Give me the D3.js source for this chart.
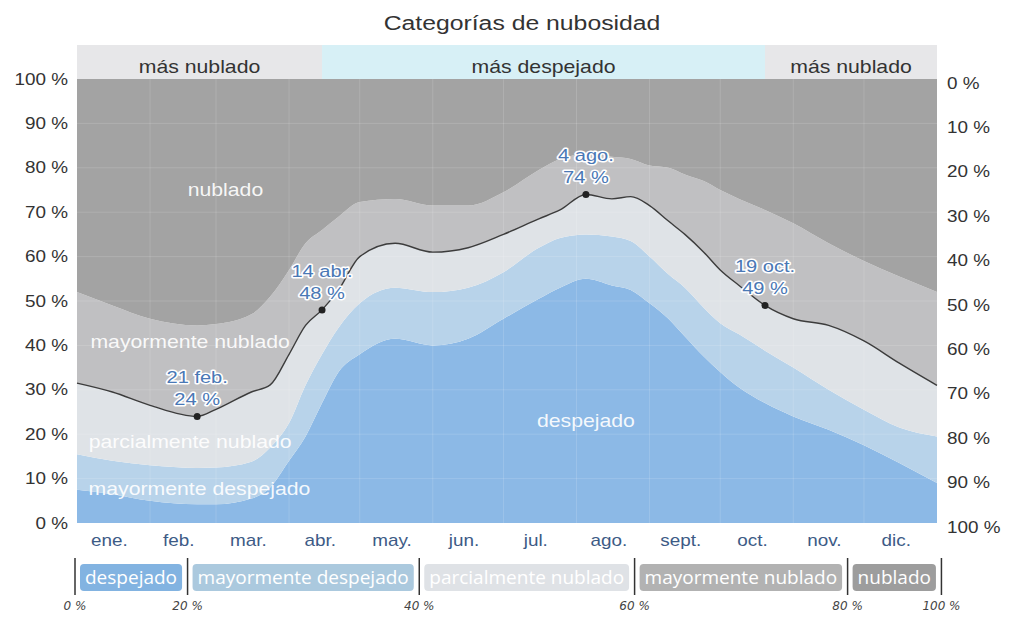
<!DOCTYPE html>
<html>
<head>
<meta charset="utf-8">
<script src="https://cdn.jsdelivr.net/npm/d3@7"></script>
<style>
body { margin: 0; background: #fff; }
text { font-family: "Liberation Sans", Arial, sans-serif; }
</style>
</head>
<body>
<script>

// Size of the page
var width = 1021;
var height = 618;

// Day of year for every reading
var days = [0, 15, 31, 51, 59, 74, 82, 90, 97, 104, 111, 120, 135, 151, 166, 181, 196, 205, 216, 227, 235, 243, 251, 258, 266, 273, 281, 292, 304, 319, 334, 349, 365];

// Percent of time in each cloud category (they add up to 100)
var despejado           = [7.5, 6.5, 5, 4.2, 4.2, 5.5, 8, 14, 19.5, 27, 34, 38, 41.5, 40, 41.5, 46, 50.5, 53, 55, 53.5, 52.5, 49.5, 46, 42, 37.5, 34, 30.5, 27, 24, 21, 17.5, 13.5, 9];
var mayormenteDespejado = [8, 7.5, 8, 8.2, 8.3, 8.3, 9, 8.5, 11.5, 11, 10, 11.5, 11.5, 12, 11.5, 10.5, 11.5, 11.2, 10, 11, 11, 10.5, 10, 11, 11, 11, 12, 11.8, 11, 9, 8, 8, 10.5];
var parcialmenteNublado = [16, 15.5, 13.5, 11.6, 13.1, 15.7, 14.1, 15.5, 13.5, 10, 8.5, 10.5, 10, 9, 9, 8.5, 6.5, 6.3, 9, 8.5, 10, 11.5, 12, 12, 12.5, 12, 11, 10.2, 11, 14.5, 15.5, 14.5, 11.5];
var mayormenteNublado   = [20.5, 19.5, 19.5, 20.5, 19.2, 17.5, 19.9, 19, 18.5, 18, 16.5, 12.3, 10, 10.5, 9.5, 9.5, 11, 11.5, 9, 9.5, 8.5, 9, 12, 13.5, 16, 18, 19.5, 21.5, 21.5, 18.5, 18, 19.5, 21];
var nublado             = [48, 51, 54, 55.5, 55.2, 53, 49, 43, 37, 34, 31, 27.7, 27, 28.5, 28.5, 25.5, 20.5, 18, 17, 17.5, 18, 19.5, 20, 21.5, 23, 25, 27, 29.5, 32.5, 37, 41, 44.5, 48];

var categories = ["despejado", "mayormente despejado", "parcialmente nublado", "mayormente nublado", "nublado"];
var legendTicks = ["0 %", "20 %", "40 %", "60 %", "80 %", "100 %"];

// Months
var monthNames = ["ene.", "feb.", "mar.", "abr.", "may.", "jun.", "jul.", "ago.", "sept.", "oct.", "nov.", "dic."];
var monthStarts = [0, 31, 59, 90, 120, 151, 181, 212, 243, 273, 304, 334, 365];

// Marked points on the line
var annoDays = [51, 104, 216, 292];
var annoDates = ["21 feb.", "14 abr.", "4 ago.", "19 oct."];

// Top band
var bandLabels = ["más nublado", "más despejado", "más nublado"];

var areaColors = ["#8cb9e6", "#b8d3ea", "#dfe3e7", "#c0c0c2", "#a3a3a3"];
var legendColors = ["#82b3e1", "#abc9de", "#dfe2e6", "#b2b2b2", "#9d9d9d"];

// Stretch for text (the reference text is wide)
var SX = 1.18;

var svg = d3.select("body")
			.append("svg")
			.attr("width", width)
			.attr("height", height);

var x = d3.scaleLinear().domain([0, 365]).range([77, 937]);
var y = d3.scaleLinear().domain([0, 100]).range([523, 79]);
var yRight = d3.scaleLinear().domain([100, 0]).range([523, 79]);

// build rows for the stack
var rows = days.map(function(d, i) {
	return {
		day: d,
		"despejado": despejado[i],
		"mayormente despejado": mayormenteDespejado[i],
		"parcialmente nublado": parcialmenteNublado[i],
		"mayormente nublado": mayormenteNublado[i],
		"nublado": nublado[i]
	};
});

var series = d3.stack().keys(categories)(rows);

function label(parent, px, py, str, size, anchor, fill) {
	return parent.append("text")
		.attr("transform", "translate(" + px + "," + py + ") scale(" + SX + ",1)")
		.attr("text-anchor", anchor)
		.style("font-size", size + "px")
		.attr("fill", fill)
		.text(str);
}

// Title
label(svg, 522, 30, "Categorías de nubosidad", 21, "middle", "#333");

// Top band: more cloudy / more clear
var bandEdges = [0, annoDays[1], annoDays[3], 365];
var bandFill = ["#e7e7e9", "#d7f0f6", "#e7e7e9"];
for (var b = 0; b < 3; b++) {
	svg.append("rect")
		.attr("x", x(bandEdges[b]))
		.attr("y", 45)
		.attr("width", x(bandEdges[b + 1]) - x(bandEdges[b]))
		.attr("height", 34)
		.attr("fill", bandFill[b]);
	label(svg, (x(bandEdges[b]) + x(bandEdges[b + 1])) / 2, 73, bandLabels[b], 18, "middle", "#333");
}

// Areas
var area = d3.area()
	.x(function(d) { return x(d.data.day); })
	.y0(function(d) { return y(d[0]); })
	.y1(function(d) { return y(d[1]); })
	.curve(d3.curveMonotoneX);

svg.append("g")
	.selectAll("path")
	.data(series)
	.enter()
	.append("path")
	.attr("d", area)
	.attr("fill", function(d, i) { return areaColors[i]; });

// faint grid
var grid = svg.append("g").attr("stroke", "#fff").attr("stroke-opacity", 0.14);
grid.selectAll(".v")
	.data(monthStarts.slice(1, 12))
	.enter()
	.append("line")
	.attr("x1", function(d) { return x(d); })
	.attr("x2", function(d) { return x(d); })
	.attr("y1", y(0))
	.attr("y2", y(100));
grid.selectAll(".h")
	.data(d3.range(10, 100, 10))
	.enter()
	.append("line")
	.attr("x1", x(0))
	.attr("x2", x(365))
	.attr("y1", function(d) { return y(d); })
	.attr("y2", function(d) { return y(d); });

// Line between partly cloudy and mostly cloudy
var line = d3.line()
	.x(function(d) { return x(d.data.day); })
	.y(function(d) { return y(d[1]); })
	.curve(d3.curveMonotoneX);

svg.append("path")
	.datum(series[2])
	.attr("d", line)
	.attr("fill", "none")
	.attr("stroke", "#3c3c3c")
	.attr("stroke-width", 1.4);

// Category names inside the chart
var inside = [
	{ name: "nublado", day: 63, v: 75 },
	{ name: "mayormente nublado", day: 48, v: 40.8 },
	{ name: "parcialmente nublado", day: 48, v: 18.3 },
	{ name: "mayormente despejado", day: 52, v: 7.6 },
	{ name: "despejado", day: 216, v: 23 }
];
inside.forEach(function(d) {
	label(svg, x(d.day), y(d.v) + 6, d.name, 18, "middle", "#fff").attr("fill-opacity", 0.92);
});

// Annotations
annoDays.forEach(function(day, i) {
	var idx = days.indexOf(day);
	var val = series[2][idx][1];
	var px = x(day), py = y(val);
	svg.append("circle")
		.attr("cx", px)
		.attr("cy", py)
		.attr("r", 3.5)
		.attr("fill", "#222");
	[annoDates[i], Math.round(val) + " %"].forEach(function(t, k) {
		label(svg, px, py - 33 + k * 22, t, 17, "middle", "#4a78b5")
			.attr("stroke", "#fff")
			.attr("stroke-width", 3)
			.attr("paint-order", "stroke")
			.attr("stroke-linejoin", "round");
	});
});

// Left axis
var yAxis = svg.append("g")
	.attr("transform", "translate(" + x(0) + ",0)")
	.call(d3.axisLeft(y).tickValues(d3.range(0, 101, 10)).tickSize(0).tickPadding(9)
		.tickFormat(function(d) { return d + " %"; }));
yAxis.select(".domain").remove();

// Right axis (reversed)
var yAxisR = svg.append("g")
	.attr("transform", "translate(" + x(365) + ",4)")
	.call(d3.axisRight(yRight).tickValues(d3.range(0, 101, 10)).tickSize(0).tickPadding(10)
		.tickFormat(function(d) { return d + " %"; }));
yAxisR.select(".domain").remove();

svg.selectAll(".tick text")
	.style("font-size", "16px")
	.style("font-family", "'Liberation Sans', Arial, sans-serif")
	.attr("fill", "#333");

// Month labels
var monthMids = monthStarts.slice(0, 12).map(function(d, i) { return (d + monthStarts[i + 1]) / 2 - 2; });
var xAxis = svg.append("g")
	.attr("transform", "translate(0," + y(0) + ")")
	.call(d3.axisBottom(x).tickValues(monthMids).tickSize(0).tickPadding(12)
		.tickFormat(function(d, i) { return monthNames[i]; }));
xAxis.select(".domain").remove();
xAxis.selectAll("text")
	.style("font-size", "16px")
	.attr("fill", "#3d5b86");

// stretch all axis text
svg.selectAll(".tick text").each(function() {
	var t = d3.select(this);
	t.attr("transform", "scale(" + SX + ",1)")
	 .attr("x", (+t.attr("x") || 0) / SX);
});

// Legend
var legend = svg.append("g").attr("class", "legend");
var cx = 75;
var tickX = [];
categories.forEach(function(c, i) {
	tickX.push(cx);
	var t = legend.append("text")
		.attr("y", 584)
		.style("font-family", "'Open Sans', sans-serif")
		.style("font-size", "19px")
		.attr("fill", "#fff")
		.attr("text-anchor", "middle")
		.text(c);
	var tw = t.node().getComputedTextLength();
	var bw = tw + 10;
	legend.insert("rect", "text")
		.attr("x", cx + 5)
		.attr("y", 564)
		.attr("width", bw)
		.attr("height", 27)
		.attr("rx", 4)
		.attr("fill", legendColors[i]);
	t.attr("x", cx + 5 + bw / 2);
	cx = cx + 5 + bw + 5.5;
});
tickX.push(cx);

legend.selectAll("line")
	.data(tickX)
	.enter()
	.append("line")
	.attr("x1", function(d) { return d; })
	.attr("x2", function(d) { return d; })
	.attr("y1", 558)
	.attr("y2", 595)
	.attr("stroke", "#333")
	.attr("stroke-width", 1.5);

legend.selectAll(".lt")
	.data(legendTicks)
	.enter()
	.append("text")
	.attr("x", function(d, i) { return tickX[i]; })
	.attr("y", 610)
	.attr("text-anchor", "middle")
	.style("font-family", "'DejaVu Sans', sans-serif")
	.style("font-style", "italic")
	.style("font-size", "12px")
	.attr("fill", "#444")
	.text(function(d) { return d; });

</script>
</body>
</html>
